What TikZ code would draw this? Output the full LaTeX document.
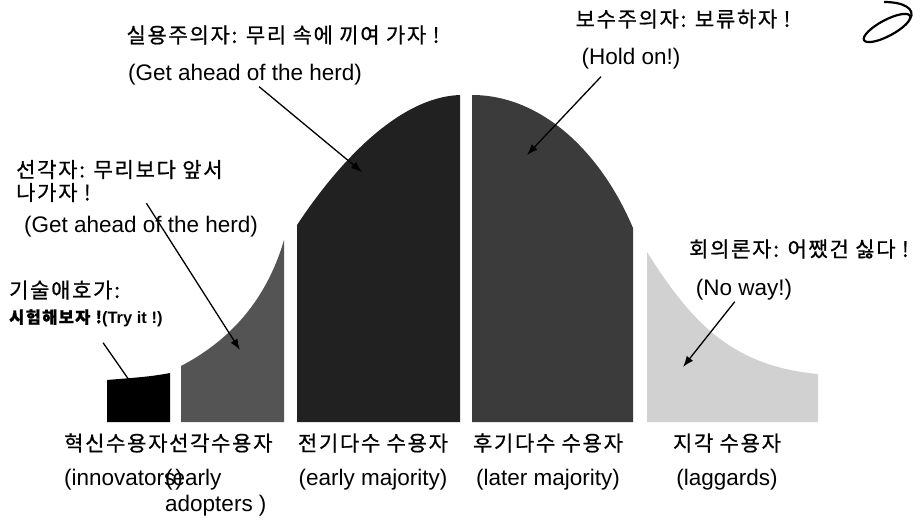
\documentclass[tikz,border=0pt]{standalone}
\usepackage{fontspec}
\setmainfont{Liberation Sans}
\newfontfamily\kr[LetterSpace=8, FakeBold=0.8]{Noto Sans CJK KR}
\usetikzlibrary{arrows.meta,positioning}

\tikzset{
  kor/.style={font=\kr\fontsize{21}{23}\selectfont, inner sep=1pt},
  eng/.style={font=\fontsize{22.5}{26}\selectfont, inner sep=1pt},
  arr/.style={-{Latex[length=11pt,width=8pt]}, line width=1.3pt},
}

\begin{document}
\begin{tikzpicture}[x=1pt, y=-1pt, node distance=37pt]
    \useasboundingbox (0,0) rectangle (920,519);

    % the five parts of the bell curve
    \fill[black] (107,422) -- (107,380) .. controls (130,378) and (150,377) .. (170,373) -- (170,422) -- cycle;
    \fill[black!67] (181,422) -- (181,366) .. controls (225,343) and (265,305) .. (284,240) -- (284,422) -- cycle;
    \fill[black!87] (297,422) -- (297,225) .. controls (340,160) and (400,97) .. (460,95) -- (460,422) -- cycle;
    \fill[black!77] (472,422) -- (472,95) .. controls (540,95) and (600,150) .. (633,228) -- (633,422) -- cycle;
    \fill[black!18] (647,422) -- (647,252) .. controls (690,320) and (730,366) .. (818,374) -- (818,422) -- cycle;

    % remarks
    \node[kor] (prag) at (283,35) {실용주의자: 무리 속에 끼여 가자 !};
    \node[eng] (pragEn) at (245,75) {(Get ahead of the herd)};
    \node[kor] (cons) at (683,19) {보수주의자: 보류하자 !};
    \node[eng] (consEn) at (631,59) {(Hold on!)};
    \node[kor, align=left, anchor=west] (early) at (15,181) {선각자: 무리보다 앞서\\나가자 !};
    \node[eng] (earlyEn) at (141,227) {(Get ahead of the herd)};
    \node[kor, anchor=west] (tech) at (8,290) {기술애호가:};
    \node[font=\kr\bfseries\fontsize{16.5}{18}\selectfont, inner sep=1pt, anchor=west] (try) at (8,318) {시험해보자 !{\rmfamily(Try it !)}};
    \node[kor, anchor=west] (skep) at (688,249) {회의론자: 어쨌건 싫다 !};
    \node[eng] (skepEn) at (744,290) {(No way!)};

    % group names
    \node[kor, anchor=west] (lblIN) at (63,443) {혁신수용자};
    \node[kor, anchor=west] (lblEA) at (168,443) {선각수용자};
    \node[kor] (lblEM) at (373,443) {전기다수 수용자};
    \node[kor] (lblLM) at (548,443) {후기다수 수용자};
    \node[kor] (lblLG) at (727,443) {지각 수용자};
    \node[eng, anchor=west] (enIN) at (63,480) {(innovators)};
    \node[eng, align=left, anchor=west] (enEA) at (164,493) {(early\\adopters )};
    \node[eng, below of=lblEM] (enEM) {(early majority)};
    \node[eng, below of=lblLM] (enLM) {(later majority)};
    \node[eng, below of=lblLG] (enLG) {(laggards)};

    % pointers
    \coordinate (tipEM) at (362,172);
    \coordinate (tipLM) at (527,155);
    \coordinate (tipEA) at (240,350);
    \coordinate (tipIN) at (136,390);
    \coordinate (tipLG) at (683,367);
    \draw[arr] (pragEn) -- (tipEM);
    \draw[arr] ([xshift=-30pt, yshift=-6pt]consEn.south) -- (tipLM);
    \draw[arr] ([xshift=27pt]early.south) -- (tipEA);
    \draw[arr, shorten <=18pt] (try) -- (tipIN);
    \draw[arr] (skepEn) -- (tipLG);

    % logo
    \draw[line width=2.2pt, rotate around={28:(887,28)}] (887,28) ellipse (26 and 8);
    \draw[line width=2.2pt] (884,2) .. controls (904,2) and (916,9) .. (910,19);
\end{tikzpicture}
\end{document}
